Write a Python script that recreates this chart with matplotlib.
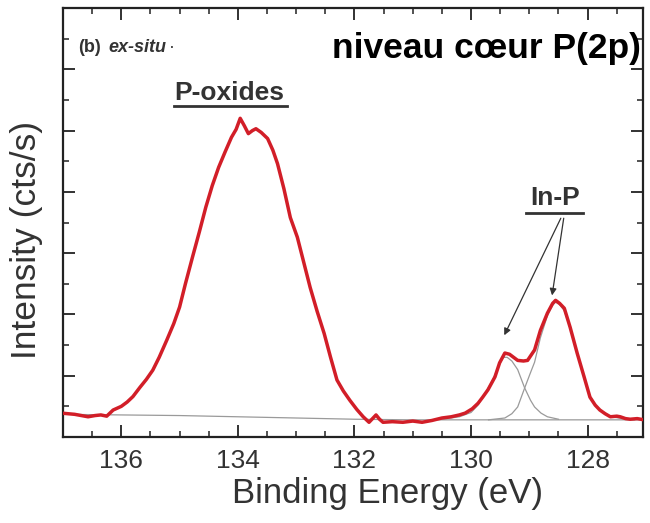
import matplotlib
matplotlib.use("Agg")
import matplotlib.pyplot as plt
from matplotlib.ticker import MultipleLocator, NullFormatter
from matplotlib.lines import Line2D

# ---- data (binding energy in eV, intensity in arbitrary units) ----
spec_ev = [137.03, 136.80, 136.57, 136.45, 136.35, 136.25, 136.14, 136.00, 135.90, 135.80,
           135.68, 135.57, 135.46, 135.35, 135.22, 135.10, 135.00, 134.90, 134.78, 134.66,
           134.55, 134.44, 134.33, 134.22, 134.11, 134.03, 133.96, 133.89, 133.82, 133.75,
           133.69, 133.60, 133.49, 133.40, 133.32, 133.21, 133.10, 132.98, 132.87, 132.76,
           132.64, 132.52, 132.41, 132.30, 132.19, 132.08, 131.96, 131.85, 131.75, 131.69,
           131.63, 131.57, 131.51, 131.35, 131.17, 131.00, 130.84, 130.67, 130.50, 130.34,
           130.20, 130.10, 129.98, 129.88, 129.80, 129.71, 129.59, 129.51, 129.42, 129.34,
           129.27, 129.20, 129.10, 129.03, 128.91, 128.81, 128.69, 128.60, 128.55, 128.48,
           128.40, 128.30, 128.18, 128.06, 127.96, 127.87, 127.79, 127.70, 127.61, 127.50,
           127.44, 127.35, 127.27, 127.15, 127.03]
spec_int = [0.39, 0.37, 0.33, 0.35, 0.36, 0.34, 0.44, 0.50, 0.57, 0.66,
            0.81, 0.94, 1.09, 1.30, 1.58, 1.85, 2.12, 2.50, 2.93, 3.35,
            3.75, 4.10, 4.40, 4.65, 4.89, 5.02, 5.20, 5.08, 4.95, 5.00,
            5.03, 4.97, 4.87, 4.68, 4.46, 4.05, 3.58, 3.26, 2.85, 2.44,
            2.05, 1.69, 1.30, 0.93, 0.75, 0.60, 0.45, 0.33, 0.24, 0.30,
            0.36, 0.29, 0.24, 0.25, 0.24, 0.26, 0.24, 0.27, 0.31, 0.33,
            0.36, 0.39, 0.46, 0.55, 0.65, 0.77, 0.98, 1.21, 1.37, 1.35,
            1.30, 1.25, 1.24, 1.25, 1.42, 1.74, 2.02, 2.18, 2.23, 2.18,
            2.10, 1.79, 1.37, 0.98, 0.65, 0.52, 0.44, 0.38, 0.33, 0.34,
            0.33, 0.30, 0.29, 0.30, 0.28]

bg_ev = [137.0, 135.0, 134.0, 133.0, 132.0, 131.0, 130.0, 129.0, 128.0, 127.0]
bg_int = [0.37, 0.35, 0.33, 0.31, 0.29, 0.28, 0.28, 0.28, 0.28, 0.28]

compA_ev = [130.5, 130.2, 130.0, 129.88, 129.75, 129.62, 129.52, 129.45, 129.38, 129.30,
            129.20, 129.08, 128.98, 128.91, 128.80, 128.69, 128.5]
compA_int = [0.29, 0.33, 0.40, 0.52, 0.72, 0.95, 1.17, 1.30, 1.30, 1.24,
             1.10, 0.80, 0.60, 0.49, 0.39, 0.33, 0.29]

compB_ev = [129.7, 129.42, 129.30, 129.20, 129.08, 128.98, 128.91, 128.81, 128.69, 128.60,
            128.55, 128.48, 128.40, 128.30, 128.18, 128.06, 127.96, 127.85, 127.72, 127.60,
            127.40, 127.2]
compB_int = [0.28, 0.31, 0.38, 0.49, 0.80, 1.05, 1.22, 1.62, 1.98, 2.15,
             2.20, 2.16, 2.06, 1.78, 1.36, 0.97, 0.67, 0.50, 0.39, 0.33,
             0.30, 0.28]

xticks = [136, 134, 132, 130, 128]

# ---- figure ----
fig = plt.figure(figsize=(6.5, 5.23), dpi=100)
W, H = 650, 523
ax = fig.add_axes([63 / W, 1 - 437 / H, 580 / W, 429 / H])

gray_txt = "#333333"
ax.plot(bg_ev, bg_int, color="#9a9a9a", lw=0.9, zorder=1)
ax.plot(compA_ev, compA_int, color="#9a9a9a", lw=0.9, zorder=1)
ax.plot(compB_ev, compB_int, color="#9a9a9a", lw=0.9, zorder=1)
ax.plot(spec_ev, spec_int, color="#d21e28", lw=2.5, zorder=3)

ax.set_xlim(137, 127.05)
ax.set_ylim(0, 7)
ax.set_xticks(xticks)
ax.xaxis.set_minor_locator(MultipleLocator(0.5))
ax.yaxis.set_major_locator(MultipleLocator(1))
ax.yaxis.set_minor_locator(MultipleLocator(0.5))
ax.yaxis.set_major_formatter(NullFormatter())

ax.tick_params(which="both", direction="in", top=True, right=True, color="#222222")
ax.tick_params(which="major", length=8.5, width=1.3)
ax.tick_params(which="minor", length=4.5, width=1.1)
ax.tick_params(axis="x", which="major", pad=9, labelsize=19, labelcolor=gray_txt)
for lab in ax.get_xticklabels():
    lab.set_family("Liberation Sans")
for sp in ax.spines.values():
    sp.set_linewidth(1.6)
    sp.set_color("#222222")

ax.set_xlabel("Binding Energy (eV)", family="Liberation Sans", fontsize=25,
              color=gray_txt)
ax.xaxis.set_label_coords((388 - 63) / 580, -0.093)
ax.set_ylabel("Intensity (cts/s)", family="Liberation Sans", fontsize=25.5,
              color=gray_txt)
ax.yaxis.set_label_coords(-0.034, 1 - (240 - 8) / 429)

# ---- annotations ----
fig.text(78 / W, 1 - 52 / H, "(b)", family="Liberation Sans", fontweight="bold",
         fontsize=13, color=gray_txt, ha="left", va="baseline")
fig.text(108 / W, 1 - 52 / H, "ex-situ", family="Liberation Sans", fontweight="bold",
         fontstyle="italic", fontsize=13, color=gray_txt, ha="left", va="baseline")
fig.text(169 / W, 1 - 52 / H, "·", family="Liberation Sans", fontsize=13,
         color=gray_txt, ha="left", va="baseline")
fig.text(641 / W, 1 - 58 / H, "niveau cœur P(2p)", family="Liberation Sans",
         fontweight="bold", fontsize=25.5, color="black", ha="right", va="baseline")

ax.text(134.14, 5.62, "P-oxides", family="Liberation Sans", fontweight="bold",
        fontsize=19, color=gray_txt, ha="center", va="center")
ax.add_line(Line2D([135.1, 133.15], [5.40, 5.40], color=gray_txt, lw=2.0))

ax.text(128.56, 3.9, "In-P", family="Liberation Sans", fontweight="bold",
        fontsize=19, color=gray_txt, ha="center", va="center")
ax.add_line(Line2D([129.05, 128.08], [3.66, 3.66], color=gray_txt, lw=2.0))

arrow = dict(arrowstyle="-|>", color="#333333", lw=0.9, mutation_scale=10,
             shrinkA=0, shrinkB=0)
ax.annotate("", xy=(129.43, 1.66), xytext=(128.46, 3.57), arrowprops=arrow)
ax.annotate("", xy=(128.61, 2.31), xytext=(128.41, 3.57), arrowprops=arrow)

fig.savefig("out.png", dpi=100)
